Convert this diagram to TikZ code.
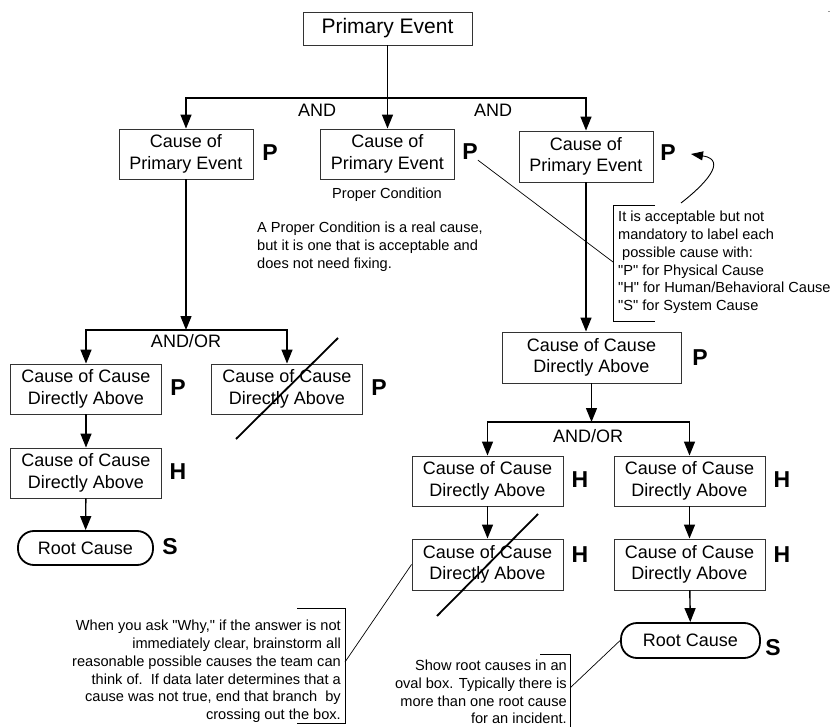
\documentclass[tikz,border=0pt]{standalone}
\usepackage{fontspec}
\setmainfont{Liberation Sans}[Ligatures=TeXOff]
\usepackage{tikz}
\usetikzlibrary{arrows.meta,calc}

\begin{document}
\begin{tikzpicture}[x=1pt, y=-1pt,
  box/.style={draw=black!80, line width=0.9pt, minimum width=151pt, minimum height=50pt,
              inner sep=0pt, align=center, font=\fontsize{18}{21.6}\selectfont},
  rootbox/.style={draw, line width=1.8pt, rounded corners=16pt, minimum width=135pt,
              minimum height=34pt, inner sep=0pt, font=\fontsize{18}{21.6}\selectfont},
  tag/.style={font=\fontsize{23}{23}\selectfont\bfseries, inner sep=0pt},
  gate/.style={font=\fontsize{18}{18}\selectfont, inner sep=0pt},
  arrow/.style={-{Triangle[length=14pt, width=11pt]}, line width=1.4pt},
  note/.style={font=\fontsize{14.6}{17.8}\selectfont, inner sep=0pt},
  callout/.style={line width=0.7pt},
  strike/.style={line width=1.8pt}
]
\useasboundingbox (0,0) rectangle (835,727);

% top level
\node[box, minimum width=169pt, minimum height=33pt, font=\fontsize{21}{25}\selectfont] (pe) at (387.5,28.5) {Primary Event};
\node[box, minimum width=134pt] (c1) at (186,154) {Cause of\\Primary Event};
\node[box, minimum width=134pt] (c2) at (387.5,154) {Cause of\\Primary Event};
\node[box, minimum width=134pt, minimum height=51pt] (c3) at (586,156.5) {Cause of\\Primary Event};
\node[tag] (p1) at (270,153) {P};
\node[tag] (p2) at (470,152) {P};
\node[tag] (p3) at (668,153) {P};
\node[gate] (and1) at (317,110) {AND};
\node[gate] (and2) at (493,110) {AND};
\node[font=\fontsize{9}{9}\selectfont, inner sep=0pt] (dot) at (829,12) {.};
\coordinate (j1) at (387.5,98);
\draw[arrow] (pe) -- (c2);
\draw[arrow] (j1) -| (c1.north);
\draw[arrow] (j1) -| (c3.north);

% proper condition
\node[note] (pcond) at (387,195) {Proper Condition};
\node[note, anchor=west, align=left] (pcnote) at (257,247) {A Proper Condition is a real cause,\\but it is one that is acceptable and\\does not need fixing.};

% label note
\node[note, anchor=west, align=left] (lblnote) at (618,262.5) {It is acceptable but not\\mandatory to label each\\\hspace*{4pt}possible cause with:\\"P" for Physical Cause\\"H" for Human/Behavioral Cause\\"S" for System Cause};
\draw[callout] (655,205) -- (613,205) -- (613,321) -- (655,321);
\coordinate (k1) at (613,262);
\draw[callout] (p2.south east) -- (k1);
\coordinate (k2) at (681,203);
\coordinate (k3) at (691,154);
\draw[-{Triangle[length=12pt, width=9pt]}, line width=0.9pt] (k2) .. controls (703,186) and (729,160) .. (k3);

% left branch
\coordinate (j2) at (186,330);
\node[box] (la) at (86,389) {Cause of Cause\\Directly Above};
\node[box] (lb) at (287,389) {Cause of Cause\\Directly Above};
\node[box] (lc) at (86,473) {Cause of Cause\\Directly Above};
\node[rootbox] (lr) at (85.5,548) {Root Cause};
\node[tag] (pla) at (178,388) {P};
\node[tag] (plb) at (379,388) {P};
\node[tag] (hlc) at (178,472) {H};
\node[tag] (slr) at (170,547) {S};
\node[gate] (ao1) at (186,341) {AND/OR};
\draw[arrow] (c1) -- (j2);
\draw[arrow] (j2) -| (la.north);
\draw[arrow] (j2) -| (lb.north);
\draw[arrow] (la) -- (lc);
\draw[arrow] (lc) -- (lr);
\draw[strike] ($(lb)+(-51,50)$) -- ($(lb)+(51,-51)$);

% right branch
\node[box, minimum width=179pt, minimum height=51pt] (rm) at (591.5,357.5) {Cause of Cause\\Directly Above};
\node[tag] (prm) at (700,358) {P};
\draw[arrow] (c3.south) -- (c3.south |- rm.north);
\coordinate (j3) at (591.5,422);
\draw[arrow] (rm) -- (j3);
\node[gate] (ao2) at (588,436) {AND/OR};
\node[box] (h1) at (487.5,481) {Cause of Cause\\Directly Above};
\node[box] (h2) at (689.5,481) {Cause of Cause\\Directly Above};
\node[box, minimum height=51pt] (h3) at (487.5,564.5) {Cause of Cause\\Directly Above};
\node[box, minimum height=51pt] (h4) at (689.5,564.5) {Cause of Cause\\Directly Above};
\node[rootbox, minimum width=139pt, minimum height=35pt] (rr) at (690.5,640.5) {Root Cause};
\node[tag] (th1) at (580,480) {H};
\node[tag] (th2) at (782,480) {H};
\node[tag] (th3) at (580,555) {H};
\node[tag] (th4) at (782,555) {H};
\node[tag] (srr) at (773,648) {S};
\draw[arrow] (j3) -| (h1.north);
\draw[arrow] (j3) -| (h2.north);
\draw[arrow] (h1) -- (h3);
\draw[arrow] (h2) -- (h4);
\draw[arrow] (h4) -- (rr);
\draw[strike] ($(h3)+(-50.5,51.5)$) -- ($(h3)+(50.5,-50.5)$);

% bottom notes
\node[note, anchor=east, align=right] (whynote) at (341,671.5) {When you ask "Why," if the answer is not\\immediately clear, brainstorm all\\reasonable possible causes the team can\\think of.\ \ If data later determines that a\\cause was not true, end that branch\ \ by\\crossing out the box.};
\draw[callout] (297,608) -- (345,608) -- (345,723) -- (297,723);
\coordinate (k4) at (345,662);
\draw[callout] (k4) -- (h3.west);
\node[note, anchor=east, align=right] (ovalnote) at (567,692) {Show root causes in an\\oval box. Typically there is\\more than one root cause\\for an incident.};
\draw[callout] (540,654) -- (570,654) -- (570,727);
\coordinate (k5) at (570,688);
\draw[callout] (k5) -- (rr.west);
\end{tikzpicture}
\end{document}
